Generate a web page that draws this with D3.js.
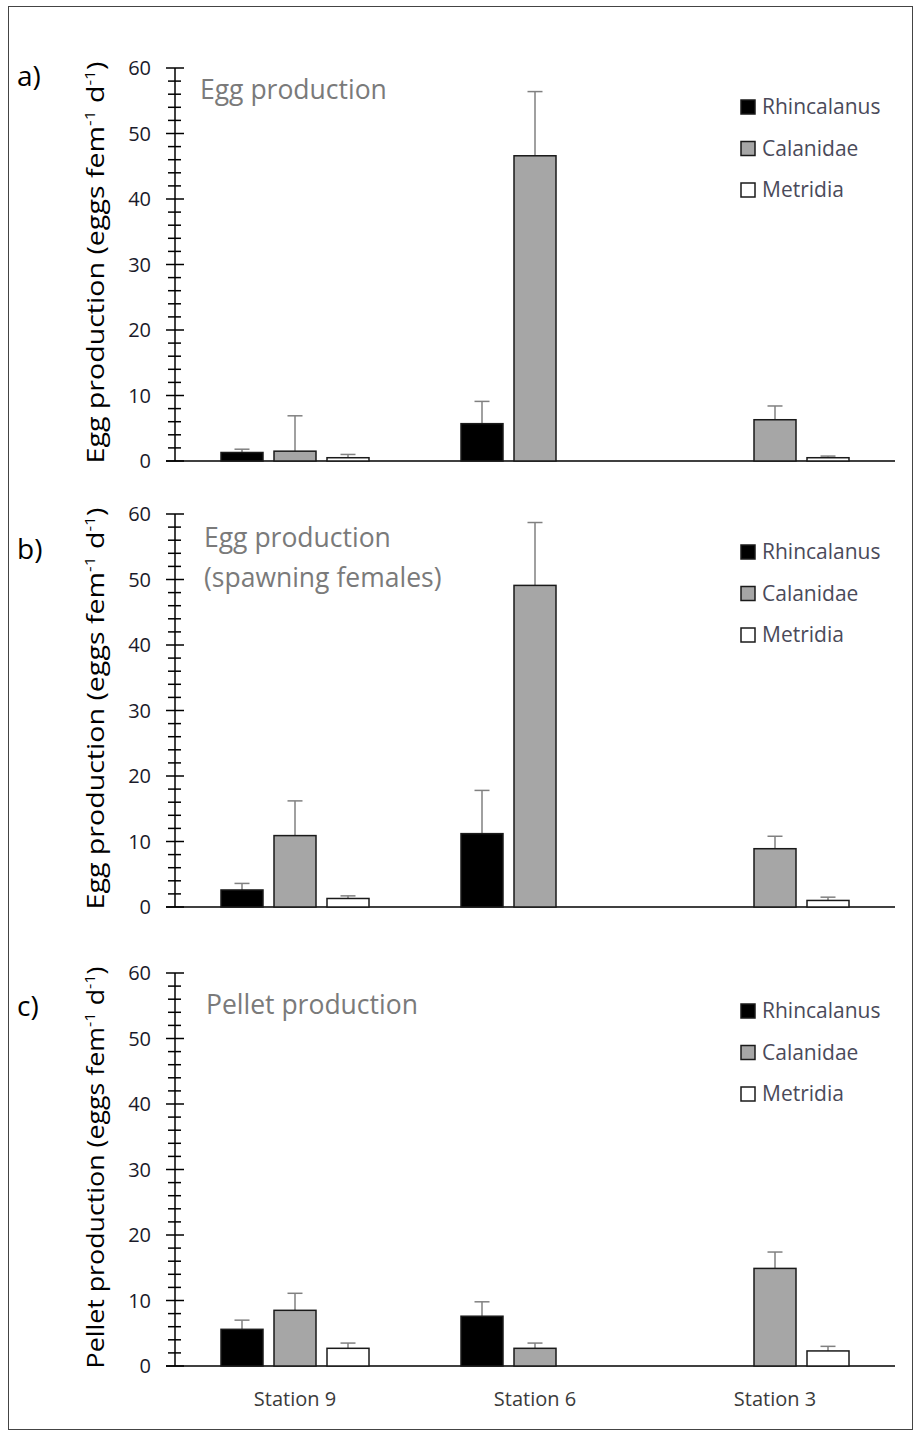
<!DOCTYPE html>
<html>
<head>
<meta charset="utf-8">
<script src="https://cdn.jsdelivr.net/npm/d3@7/dist/d3.min.js"></script>
<style>
  html, body { margin: 0; padding: 0; background: #fff; }
  svg { display: block; font-family: "Open Sans", "DejaVu Sans", sans-serif; }
</style>
</head>
<body>
<svg id="chart" width="915" height="1432"></svg>
<script>
// Stations along the x axis and the three copepod groups
const stations = ["Station 9", "Station 6", "Station 3"];
const groups = ["Rhincalanus", "Calanidae", "Metridia"];
const groupFill = ["#000000", "#a6a6a6", "#ffffff"];
const yTicks = [0, 10, 20, 30, 40, 50, 60];

// a) Egg production (means and upper error)
const eggRhincalanus    = [1.3, 5.7, null];
const eggRhincalanusErr = [0.5, 3.4, null];
const eggCalanidae      = [1.5, 46.6, 6.3];
const eggCalanidaeErr   = [5.4, 9.8, 2.1];
const eggMetridia       = [0.5, null, 0.5];
const eggMetridiaErr    = [0.5, null, 0.25];

// b) Egg production of spawning females
const spawnRhincalanus    = [2.6, 11.2, null];
const spawnRhincalanusErr = [1.0, 6.6, null];
const spawnCalanidae      = [10.9, 49.1, 8.9];
const spawnCalanidaeErr   = [5.3, 9.6, 1.9];
const spawnMetridia       = [1.3, null, 1.0];
const spawnMetridiaErr    = [0.4, null, 0.5];

// c) Pellet production
const pelletRhincalanus    = [5.6, 7.6, null];
const pelletRhincalanusErr = [1.4, 2.2, null];
const pelletCalanidae      = [8.5, 2.7, 14.9];
const pelletCalanidaeErr   = [2.6, 0.8, 2.5];
const pelletMetridia       = [2.7, null, 2.3];
const pelletMetridiaErr    = [0.8, null, 0.7];

const panels = [
  { letter: "a)", title: ["Egg production"], ylabel: "Egg production",
    means: [eggRhincalanus, eggCalanidae, eggMetridia],
    errs: [eggRhincalanusErr, eggCalanidaeErr, eggMetridiaErr],
    yBottom: 461, yTop: 68, letterY: 86, titleX: 200, titleY: 99, legendY: 107 },
  { letter: "b)", title: ["Egg production", "(spawning females)"], ylabel: "Egg production",
    means: [spawnRhincalanus, spawnCalanidae, spawnMetridia],
    errs: [spawnRhincalanusErr, spawnCalanidaeErr, spawnMetridiaErr],
    yBottom: 907, yTop: 514, letterY: 559, titleX: 204, titleY: 547, legendY: 552 },
  { letter: "c)", title: ["Pellet production"], ylabel: "Pellet production",
    means: [pelletRhincalanus, pelletCalanidae, pelletMetridia],
    errs: [pelletRhincalanusErr, pelletCalanidaeErr, pelletMetridiaErr],
    yBottom: 1366, yTop: 973, letterY: 1016, titleX: 206, titleY: 1014, legendY: 1011 }
];

const svg = d3.select("#chart");

// outer frame
svg.append("rect")
  .attr("x", 8.5).attr("y", 6.5).attr("width", 904).attr("height", 1423)
  .attr("fill", "none").attr("stroke", "#444").attr("stroke-width", 1);

const axisX = 175;
const x = d3.scaleBand().domain(stations).range([axisX, 895]);
const xInner = d3.scalePoint().domain(groups).range([-53, 53]);
const barW = 42;

panels.forEach((p, pi) => {
  const y = d3.scaleLinear().domain([0, 60]).range([p.yBottom, p.yTop]);
  const g = svg.append("g");

  // x baseline
  g.append("line")
    .attr("x1", 166).attr("x2", 895)
    .attr("y1", y(0)).attr("y2", y(0))
    .attr("stroke", "#000").attr("stroke-width", 1.5);

  // y axis with minor ticks crossing the axis line
  g.append("line")
    .attr("x1", axisX).attr("x2", axisX)
    .attr("y1", y(0)).attr("y2", y(60))
    .attr("stroke", "#000").attr("stroke-width", 1.5);
  const minor = d3.range(0, 61, 2).filter(v => v % 10 !== 0);
  g.selectAll(".minor").data(minor).join("line")
    .attr("x1", 168).attr("x2", 181)
    .attr("y1", d => y(d)).attr("y2", d => y(d))
    .attr("stroke", "#000").attr("stroke-width", 1.5);
  g.selectAll(".major").data(yTicks).join("line")
    .attr("x1", 166).attr("x2", 184)
    .attr("y1", d => y(d)).attr("y2", d => y(d))
    .attr("stroke", "#000").attr("stroke-width", 1.5);
  g.selectAll(".tl").data(yTicks).join("text")
    .attr("x", 151).attr("y", d => y(d))
    .attr("dy", "0.35em")
    .attr("text-anchor", "end")
    .attr("font-size", 20).attr("fill", "#1a1a2a")
    .text(d => d);

  // y axis title
  const yl = g.append("text")
    .attr("transform", `translate(104,${(y(0) + y(60)) / 2 - 2}) rotate(-90)`)
    .attr("text-anchor", "middle")
    .attr("font-size", 23).attr("font-weight", 500).attr("fill", "#000")
    .attr("textLength", 402).attr("lengthAdjust", "spacingAndGlyphs");
  yl.append("tspan").text(p.ylabel + " (eggs fem");
  yl.append("tspan").attr("font-size", 14).attr("dy", -9).text("-1");
  yl.append("tspan").attr("dy", 9).text(" d");
  yl.append("tspan").attr("font-size", 14).attr("dy", -9).text("-1");
  yl.append("tspan").attr("dy", 9).text(")");

  // panel letter
  g.append("text")
    .attr("x", 17).attr("y", p.letterY)
    .attr("font-size", 28).attr("fill", "#000")
    .text(p.letter);

  // panel title
  p.title.forEach((t, i) => {
    g.append("text")
      .attr("x", p.titleX).attr("y", p.titleY + i * 40)
      .attr("font-size", 26.5).attr("fill", "#7a7a7a")
      .text(t);
  });

  // bars and upper error bars
  groups.forEach((grp, gi) => {
    const rows = stations.map((s, si) => ({
      s, v: p.means[gi][si], e: p.errs[gi][si]
    })).filter(d => d.v !== null);
    const cx = d => x(d.s) + x.bandwidth() / 2 + xInner(grp);

    g.selectAll(null).data(rows).join("line")
      .attr("x1", cx).attr("x2", cx)
      .attr("y1", d => y(d.v)).attr("y2", d => y(d.v + d.e))
      .attr("stroke", "#808080").attr("stroke-width", 1.5);
    g.selectAll(null).data(rows).join("line")
      .attr("x1", d => cx(d) - 7.5).attr("x2", d => cx(d) + 7.5)
      .attr("y1", d => y(d.v + d.e)).attr("y2", d => y(d.v + d.e))
      .attr("stroke", "#808080").attr("stroke-width", 1.5);

    g.selectAll(null).data(rows).join("rect")
      .attr("x", d => cx(d) - barW / 2)
      .attr("y", d => y(d.v))
      .attr("width", barW)
      .attr("height", d => y(0) - y(d.v))
      .attr("fill", groupFill[gi])
      .attr("stroke", "#1a1a1a").attr("stroke-width", 1.5);
  });

  // legend
  const lg = g.append("g");
  groups.forEach((grp, gi) => {
    const ly = p.legendY + gi * 41.5;
    lg.append("rect")
      .attr("x", 741).attr("y", ly - 7).attr("width", 14).attr("height", 14)
      .attr("fill", groupFill[gi]).attr("stroke", "#1a1a1a").attr("stroke-width", 1.5);
    lg.append("text")
      .attr("x", 762).attr("y", ly).attr("dy", "0.35em")
      .attr("font-size", 21).attr("fill", "#4a4a5a")
      .text(grp);
  });

  // station labels under the last panel
  if (pi === panels.length - 1) {
    g.selectAll(".st").data(stations).join("text")
      .attr("x", d => x(d) + x.bandwidth() / 2)
      .attr("y", 1399).attr("dy", "0.35em")
      .attr("text-anchor", "middle")
      .attr("font-size", 20).attr("fill", "#3a3a3a")
      .text(d => d);
  }
});
</script>
</body>
</html>
